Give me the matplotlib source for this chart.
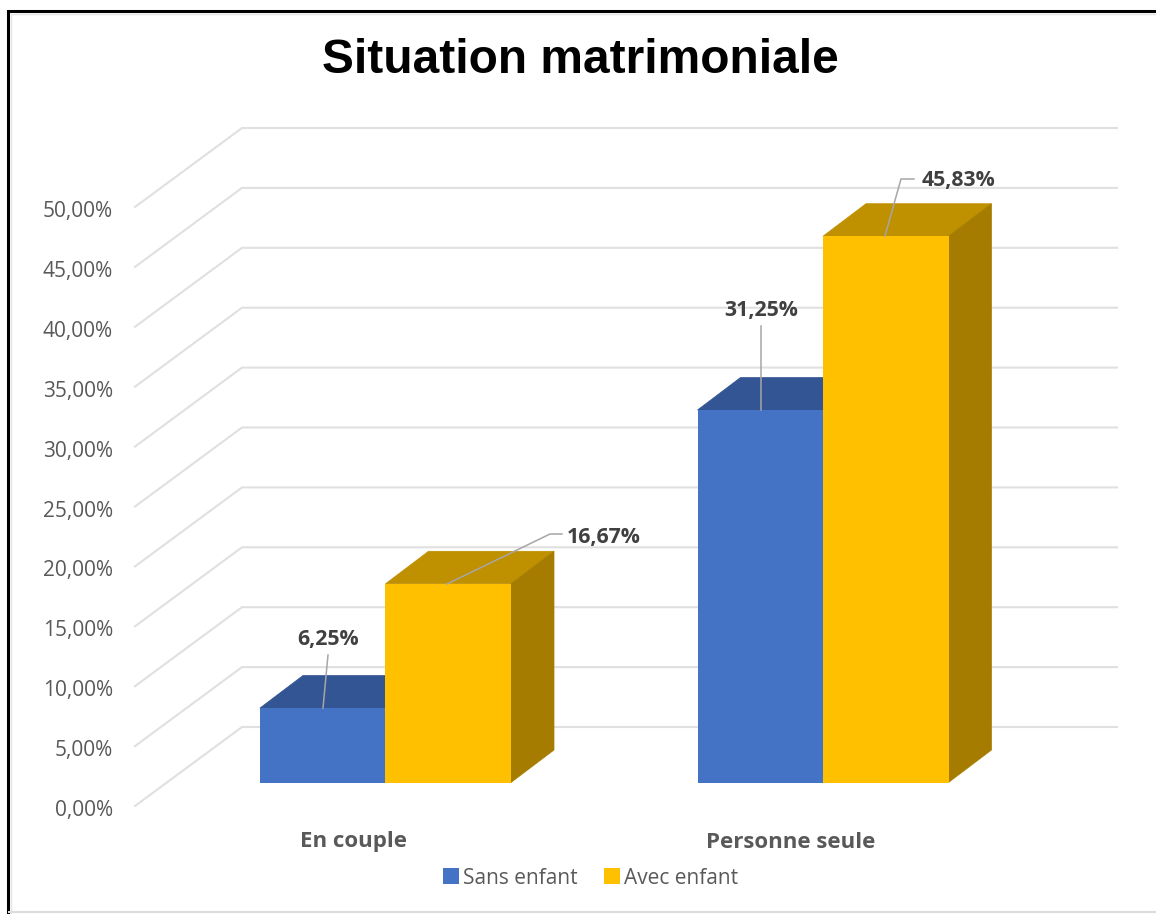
import matplotlib
matplotlib.use('Agg')
import matplotlib.pyplot as plt
from matplotlib.patches import Polygon
from matplotlib.lines import Line2D
import numpy as np

categories = ['En couple', 'Personne seule']
sans_enfant = [6.25, 31.25]
avec_enfant = [16.67, 45.83]
series_names = ['Sans enfant', 'Avec enfant']
y_ticks = [0, 5, 10, 15, 20, 25, 30, 35, 40, 45, 50]

W, H = 1156, 914
PX_X = 437.5   # px for one category
PX_Y = 11.92   # px for one percent
X0, Y0 = 385.5, 782.5
WALL = 11.98 / PX_Y  # walls are a bit further apart than the bars


def px(x, y):
    # picture pixels to data units
    return (x - X0) / PX_X, (Y0 - y) / PX_Y


def fr(v):
    return ('%.2f' % v).replace('.', ',') + '%'


fig = plt.figure(figsize=(W / 100, H / 100), dpi=100, facecolor='white')
ax = fig.add_axes([0, 0, 1, 1])
ax.set_xlim(px(0, 0)[0], px(W, 0)[0])
ax.set_ylim(px(0, H)[1], px(0, 0)[1])
ax.axis('off')

# walls and gridlines
x_front, x_back, x_right = px(135, 0)[0], px(242, 0)[0], px(1117, 0)[0]
dy_front, dy_back = px(0, 806)[1], px(0, 727)[1]
for t in y_ticks:
    ax.plot([x_front, x_back, x_right], [t * WALL + dy_front, t * WALL + dy_back, t * WALL + dy_back],
            color='#e0e0e0', lw=1.5, solid_joinstyle='miter', zorder=1)
    ax.text(px(113, 0)[0], t * WALL + dy_front - 0.38, fr(t), ha='right', va='center',
            fontsize=15, color='#595959', family='Open Sans', zorder=5)

# 3D bars
bar_w = 125.5 / PX_X
dx, dy = 43 / PX_X, 32.5 / PX_Y
colors = ['#4472c4', '#ffc000']
tops = ['#335593', '#bf9000']
sides = ['#2a4a85', '#a67c00']
pos = np.arange(len(categories))
handles = []
for i, (vals, off) in enumerate(zip([sans_enfant, avec_enfant], [-bar_w / 2, bar_w / 2])):
    xs = pos + off
    z = 2 + i
    for x, v in zip(xs, vals):
        l, r = x - bar_w / 2, x + bar_w / 2
        ax.add_patch(Polygon([(l, v), (r, v), (r + dx, v + dy), (l + dx, v + dy)],
                             closed=True, fc=tops[i], ec=tops[i], lw=0.5, zorder=z))
        ax.add_patch(Polygon([(r, 0), (r + dx, dy), (r + dx, v + dy), (r, v)],
                             closed=True, fc=sides[i], ec=sides[i], lw=0.5, zorder=z))
    b = ax.bar(xs, vals, width=bar_w, color=colors[i], zorder=z, label=series_names[i])
    handles.append(b)

# data labels with leader lines
values = sans_enfant[:1] + avec_enfant[:1] + sans_enfant[1:] + avec_enfant[1:]
label_pos = [(328, 639), (604, 537), (761, 310), (958, 180)]
leaders = [[(328, 655), (323, 708)],
           [(447, 584), (550, 534), (562, 534)],
           [(761, 326), (761, 410)],
           [(885, 236), (901, 179), (914, 179)]]
for v, lp, ld in zip(values, label_pos, leaders):
    pts = [px(*p) for p in ld]
    ax.add_line(Line2D([p[0] for p in pts], [p[1] for p in pts], color='#a6a6a6', lw=1.1, zorder=6))
    ax.text(*px(*lp), fr(v), ha='center', va='center', fontsize=15.3, fontweight='bold',
            color='#404040', family='Open Sans', zorder=7)

# category labels
for c, xp in zip(categories, [354, 791]):
    ax.text(*px(xp, 842), c, ha='center', va='center', fontsize=16, fontweight='bold',
            color='#595959', family='Open Sans')

ax.text(*px(580, 60), 'Situation matrimoniale', ha='center', va='center', fontsize=34.5,
        fontweight='bold', color='black', family='Liberation Sans')

leg = ax.legend(handles=handles, loc='center', bbox_to_anchor=(590.5 / W, 1 - 878 / H), ncol=2, frameon=False,
                prop={'family': 'Open Sans', 'size': 15}, handlelength=0.77, handleheight=0.77,
                handletextpad=0.2, columnspacing=1.25, labelcolor='#595959')

# screenshot frame
for pts, col, lw in [([(8, H), (8, 11), (W, 11)], 'black', 2.2),
                     ([(11, H), (11, 14), (W, 14)], '#e4e4e4', 1.0),
                     ([(9, 912), (W, 912)], '#dcdcdc', 1.5)]:
    p = [px(*q) for q in pts]
    ax.add_line(Line2D([q[0] for q in p], [q[1] for q in p], color=col, lw=lw,
                       solid_joinstyle='miter', zorder=8))

fig.savefig('out.png', dpi=100)
